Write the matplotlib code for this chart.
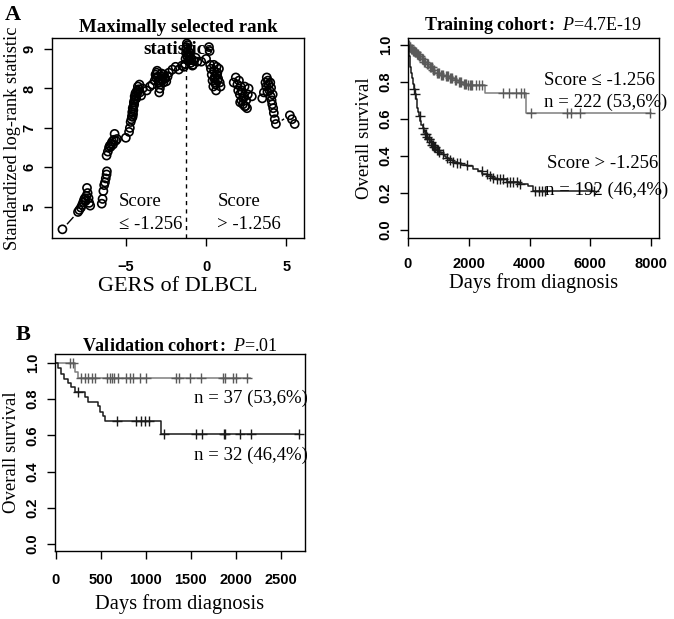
import numpy as np
import matplotlib
matplotlib.use("Agg")
import matplotlib.pyplot as plt

plt.rcParams['font.family'] = 'Liberation Serif'
plt.rcParams['mathtext.fontset'] = 'custom'
plt.rcParams['mathtext.rm'] = 'Liberation Serif'
plt.rcParams['mathtext.it'] = 'Liberation Serif:italic'
plt.rcParams['mathtext.bf'] = 'Liberation Serif:bold'

# --- panel A left: maximally selected rank statistics (cut point vs statistic)
gers_cut = [-8.95,
            -7.98, -7.9, -7.8, -7.72, -7.65, -7.6, -7.55, -7.5, -7.45, -7.42, -7.38, -7.32, -7.28, -7.22,
            -6.5, -6.45, -6.4, -6.35, -6.3, -6.25, -6.2, -6.18,
            -6.2, -6.12, -6.05, -6.0, -5.95, -5.9, -5.85, -5.8, -5.75, -5.7, -5.62, -5.55,
            -5.0, -4.8, -4.75, -4.7,
            -4.65, -4.62, -4.6, -4.58, -4.57, -4.55, -4.53, -4.52, -4.5, -4.48, -4.46, -4.45, -4.42,
            -4.4, -4.37, -4.35, -4.3, -4.27, -4.25, -4.2, -4.15,
            -4.12, -4.05, -3.95,
            -3.7, -3.5, -3.35,
            -3.2, -3.15, -3.12, -3.08, -3.05, -3.0, -2.97, -2.95, -2.92, -2.88, -2.85, -2.82, -2.78,
            -2.75, -2.7, -2.66, -2.62, -2.58, -2.55, -2.48, -2.4, -2.32,
            -2.1, -1.9, -1.7, -1.5, -1.38,
            -1.3, -1.28, -1.25, -1.23, -1.22, -1.2, -1.18, -1.15, -1.12, -1.1, -1.08, -1.05, -1.02, -1.0,
            -0.95, -0.9, -0.85, -0.82, -0.75, -0.65, -0.55,
            -0.3, 0.0, 0.18, 0.22, 0.25,
            0.3, 0.35, 0.4, 0.45, 0.48, 0.5, 0.52, 0.55, 0.58, 0.6, 0.62, 0.65, 0.68, 0.7, 0.72, 0.75,
            0.8, 0.85, 0.9,
            1.72, 1.85, 1.95, 2.0, 2.05, 2.1, 2.12, 2.15, 2.2, 2.22, 2.25, 2.3, 2.32, 2.35, 2.4, 2.42,
            2.45, 2.5, 2.55, 2.6, 2.65, 2.85,
            3.5, 3.6, 3.7, 3.75, 3.78, 3.82, 3.85, 3.9, 3.95, 4.0, 4.02, 4.05, 4.08, 4.12, 4.15, 4.18,
            4.22, 4.28, 4.35,
            5.22, 5.35, 5.52]
rank_stat = [4.43,
             4.87, 4.92, 4.98, 5.05, 5.12, 5.18, 5.22, 5.15, 5.28, 5.48, 5.35, 5.22, 5.1, 5.03,
             5.08, 5.2, 5.4, 5.55, 5.62, 5.72, 5.82, 5.9,
             6.3, 6.4, 6.5, 6.55, 6.52, 6.6, 6.65, 6.58, 6.7, 6.85, 6.68, 6.72,
             6.75, 6.9, 7.0, 7.15,
             7.22, 7.3, 7.4, 7.28, 7.5, 7.35, 7.45, 7.55, 7.65, 7.6, 7.7, 7.8, 7.72,
             7.88, 7.82, 7.75, 7.95, 7.9, 8.05, 7.98, 8.1,
             7.9, 7.82, 8.0,
             7.95, 8.05, 8.1,
             8.2, 8.35, 8.28, 8.4, 8.45, 8.3, 8.2, 8.15, 7.9, 8.0, 8.1, 8.25, 8.38,
             8.3, 8.22, 8.15, 8.35, 8.28, 8.25, 8.18, 8.3, 8.4,
             8.48, 8.55, 8.48, 8.58, 8.55,
             8.62, 8.75, 8.9, 9.0, 9.05, 9.14, 8.82, 9.1, 8.95, 8.7, 8.85, 8.72, 8.9, 8.8,
             8.65, 8.75, 8.58, 8.6, 8.7, 8.78, 8.68,
             8.68, 8.75, 9.05, 8.95, 8.6,
             8.5, 8.35, 8.2, 8.05, 8.6, 8.45, 8.25, 8.3, 8.15, 8.1, 7.95, 8.55, 8.35, 8.4, 8.2, 8.25,
             8.5, 8.15, 8.05,
             8.15, 8.28, 8.1, 7.95, 8.2, 7.85, 7.65, 8.05, 7.7, 7.95, 7.9, 7.6, 7.75, 7.8, 8.05, 7.55,
             7.55, 7.7, 7.5, 7.85, 8.0, 7.8,
             7.75, 7.9, 8.15, 8.05, 8.28, 7.92, 8.2, 8.1, 7.95, 8.15, 7.8, 8.02, 7.7, 7.6, 7.85, 7.5,
             7.38, 7.22, 7.1,
             7.32, 7.22, 7.1]
best_cut = -1.256

# --- panel A right: training cohort Kaplan-Meier
tr_low_t = [0, 40, 90, 150, 210, 280, 350, 430, 520, 610, 700, 800, 900, 1050, 1200,
            1350, 1500, 1650, 1800, 1950, 2530, 3880]
tr_low_s = [1.0, 0.99, 0.98, 0.97, 0.96, 0.95, 0.94, 0.925, 0.91, 0.895, 0.88, 0.865, 0.85, 0.84, 0.83,
            0.82, 0.81, 0.80, 0.79, 0.782, 0.742, 0.635]
tr_low_cens = [30, 60, 80, 110, 130, 170, 190, 230, 260, 300, 320, 370, 400, 450, 480, 540, 570,
               630, 660, 720, 750, 780, 830, 860, 940, 980, 1010, 1100, 1130, 1160, 1240, 1270,
               1300, 1380, 1420, 1450, 1540, 1580, 1690, 1720, 1760, 1840, 1870, 1900, 1990, 2030,
               2060, 2100, 2230, 2330, 2440, 3120, 3340, 3560, 3730, 3810,
               4060, 5230, 5350, 5670, 7980]
tr_low_end = 8000
tr_high_t = [0, 20, 40, 60, 80, 100, 130, 160, 190, 220, 250, 280, 310, 340, 370, 400, 440, 480,
             520, 560, 610, 660, 720, 780, 850, 920, 1000, 1080, 1170, 1260, 1360, 1470, 1600,
             1750, 1950, 2150, 2300, 2450, 2600, 2750, 2900, 3250, 3650, 3950, 4100]
tr_high_s = [1.0, 0.97, 0.94, 0.91, 0.88, 0.85, 0.82, 0.79, 0.76, 0.735, 0.71, 0.685, 0.66, 0.64,
             0.615, 0.59, 0.57, 0.55, 0.535, 0.52, 0.505, 0.49, 0.475, 0.46, 0.447, 0.435, 0.423,
             0.41, 0.398, 0.388, 0.378, 0.368, 0.36, 0.352, 0.345, 0.33, 0.318, 0.305, 0.293,
             0.283, 0.274, 0.262, 0.25, 0.238, 0.212]
tr_high_cens = [190, 230, 385, 500, 560, 590, 640, 680, 700, 750, 790, 830, 870, 900, 950, 990,
                1030, 1150, 1270, 1380, 1490, 1600, 1710, 1930, 2420, 2590, 2700, 2810, 2920,
                3030, 3140, 3250, 3360, 3470, 3580, 3690, 4190, 4300, 4410, 4520, 6120]
tr_high_end = 6120

# --- panel B: validation cohort Kaplan-Meier
va_low_t = [0, 210, 250]
va_low_s = [1.0, 0.95, 0.915]
va_low_cens = [155, 193, 278, 322, 359, 396, 433, 563, 600, 626, 648, 685, 785, 822, 859, 933,
               1007, 1341, 1367, 1489, 1619, 1859, 1885, 1967, 2000, 2122]
va_low_end = 2155
va_high_t = [0, 25, 60, 95, 130, 170, 210, 320, 355, 470, 490, 525, 545, 1170]
va_high_s = [1.0, 0.97, 0.94, 0.91, 0.89, 0.865, 0.84, 0.81, 0.785, 0.76, 0.73, 0.705, 0.68, 0.61]
va_high_cens = [248, 674, 896, 944, 989, 1033, 1200, 1563, 1630, 1865, 1881, 2045, 2174, 2700]
va_high_end = 2700

GREY = '#7f7f7f'
GREY_MARK = '#5a5a5a'
DARK = '#1a1a1a'
HSIZE = 14.7   # horizontal axis labels (source image is stretched sideways)
VSIZE = 13.5

fig = plt.figure(figsize=(6.74, 6.19), dpi=100)
W, H = 674.0, 619.0


def px_axes(left, top, right, bottom):
    return fig.add_axes([left / W, 1 - bottom / H, (right - left) / W, (bottom - top) / H])


def style(ax, xpad=10):
    for sp in ax.spines.values():
        sp.set_linewidth(1.0)
    ax.tick_params(direction='out', length=6, width=1)
    ax.tick_params(axis='x', pad=xpad)
    ax.tick_params(axis='y', pad=5)
    for lab in ax.get_xticklabels():
        lab.set_fontfamily('Liberation Sans')
        lab.set_fontweight('bold')
        lab.set_fontsize(10.5)
    for lab in ax.get_yticklabels():
        lab.set_fontfamily('Liberation Sans')
        lab.set_fontweight('bold')
        lab.set_fontsize(10.5)
        lab.set_rotation(90)
        lab.set_va('center')


def km(ax, t, s, cens, end, color, mcolor):
    ax.step(list(t) + [end], list(s) + [s[-1]], where='post', color=color, lw=1.1)
    idx = np.searchsorted(t, cens, side='right') - 1
    ax.plot(cens, np.array(s)[idx], '+', color=mcolor, ms=7, mew=1.0)


# panel A left
ax1 = px_axes(52, 38, 304, 238)
ax1.set_xlim(-9.6, 6.1)
ax1.set_ylim(4.21, 9.28)
ax1.scatter(gers_cut, rank_stat, s=34, facecolors='none', edgecolors='black', linewidths=1.2, zorder=3)
# R type="b": line pieces only in the gaps between points
fig.canvas.draw()
pts = ax1.transData.transform(np.column_stack([gers_cut, rank_stat]))
gap = 7.5
inv = ax1.transData.inverted()
for p, q in zip(pts[:-1], pts[1:]):
    d = q - p
    L = np.hypot(*d)
    if L > 2 * gap + 1:
        a = inv.transform(p + d / L * gap)
        b = inv.transform(q - d / L * gap)
        ax1.plot([a[0], b[0]], [a[1], b[1]], color='black', lw=1.0)
ax1.axvline(best_cut, color='black', ls=(0, (3, 3)), lw=1.0)
ax1.set_xticks([-5, 0, 5])
ax1.set_xticklabels(['\u22125', '0', '5'])
ax1.set_yticks([5, 6, 7, 8, 9])
ax1.set_xlabel('GERS of DLBCL', fontsize=16, labelpad=2)
ax1.set_ylabel('Standardized log-rank statistic', fontsize=13.2, labelpad=1)
ax1.text(-5.45, 5.13, 'Score', fontsize=13.5, va='center')
ax1.text(-5.45, 4.55, '\u2264 -1.256', fontsize=13.5, va='center')
ax1.text(0.7, 5.13, 'Score', fontsize=13.5, va='center')
ax1.text(0.7, 4.55, '> -1.256', fontsize=13.5, va='center')
style(ax1)
fig.text(178 / W, 1 - 27 / H, 'Maximally selected rank', fontsize=13.6, fontweight='bold',
         ha='center', va='center')
fig.text(178 / W, 1 - 50 / H, 'statistics', fontsize=13.6, fontweight='bold',
         ha='center', va='center', zorder=5)

# panel A right
ax2 = px_axes(408, 38, 659, 238)
km(ax2, tr_low_t, tr_low_s, tr_low_cens, tr_low_end, GREY, GREY_MARK)
km(ax2, tr_high_t, tr_high_s, tr_high_cens, tr_high_end, DARK, DARK)
ax2.set_xlim(0, 8260)
ax2.set_ylim(-0.043, 1.038)
ax2.set_xticks([0, 2000, 4000, 6000, 8000])
ax2.set_yticks([0.0, 0.2, 0.4, 0.6, 0.8, 1.0])
ax2.set_yticklabels(['0.0', '0.2', '0.4', '0.6', '0.8', '1.0'])
ax2.set_xlabel('Days from diagnosis', fontsize=HSIZE, labelpad=1)
ax2.set_ylabel('Overall survival', fontsize=VSIZE, labelpad=4)
ax2.text(4480, 0.81, 'Score \u2264 -1.256', fontsize=13.5, va='center')
ax2.text(4480, 0.69, 'n = 222 (53,6%)', fontsize=13.5, va='center', clip_on=False)
ax2.text(4560, 0.36, 'Score > -1.256', fontsize=13.5, va='center')
ax2.text(4520, 0.215, 'n = 192 (46,4%)', fontsize=13.5, va='center', clip_on=False)
style(ax2, xpad=8)
fig.text(533 / W, 1 - 25 / H, r'$\mathbf{Training\ cohort}$$\mathbf{:}$ $\mathit{P}$=4.7E-19',
         fontsize=13, ha='center', va='center')

# panel B
ax3 = px_axes(55, 354, 305, 551)
km(ax3, va_low_t, va_low_s, va_low_cens, va_low_end, GREY, GREY_MARK)
km(ax3, va_high_t, va_high_s, va_high_cens, va_high_end, DARK, DARK)
ax3.set_xlim(-10, 2770)
ax3.set_ylim(-0.039, 1.05)
ax3.set_xticks([0, 500, 1000, 1500, 2000, 2500])
ax3.set_yticks([0.0, 0.2, 0.4, 0.6, 0.8, 1.0])
ax3.set_yticklabels(['0.0', '0.2', '0.4', '0.6', '0.8', '1.0'])
ax3.set_xlabel('Days from diagnosis', fontsize=HSIZE, labelpad=5)
ax3.set_ylabel('Overall survival', fontsize=VSIZE, labelpad=4)
ax3.text(1540, 0.805, 'n = 37 (53,6%)', fontsize=13.5, va='center', clip_on=False)
ax3.text(1540, 0.49, 'n = 32 (46,4%)', fontsize=13.5, va='center', clip_on=False)
style(ax3)
fig.text(180 / W, 1 - 347 / H, r'$\mathbf{Validation\ cohort}$$\mathbf{:}$ $\mathit{P}$=.01',
         fontsize=13, ha='center', va='center')

fig.text(13 / W, 1 - 15 / H, 'A', fontsize=16, fontweight='bold', ha='center', va='center')
fig.text(23 / W, 1 - 335 / H, 'B', fontsize=16, fontweight='bold', ha='center', va='center')

fig.savefig('out.png', dpi=100)
